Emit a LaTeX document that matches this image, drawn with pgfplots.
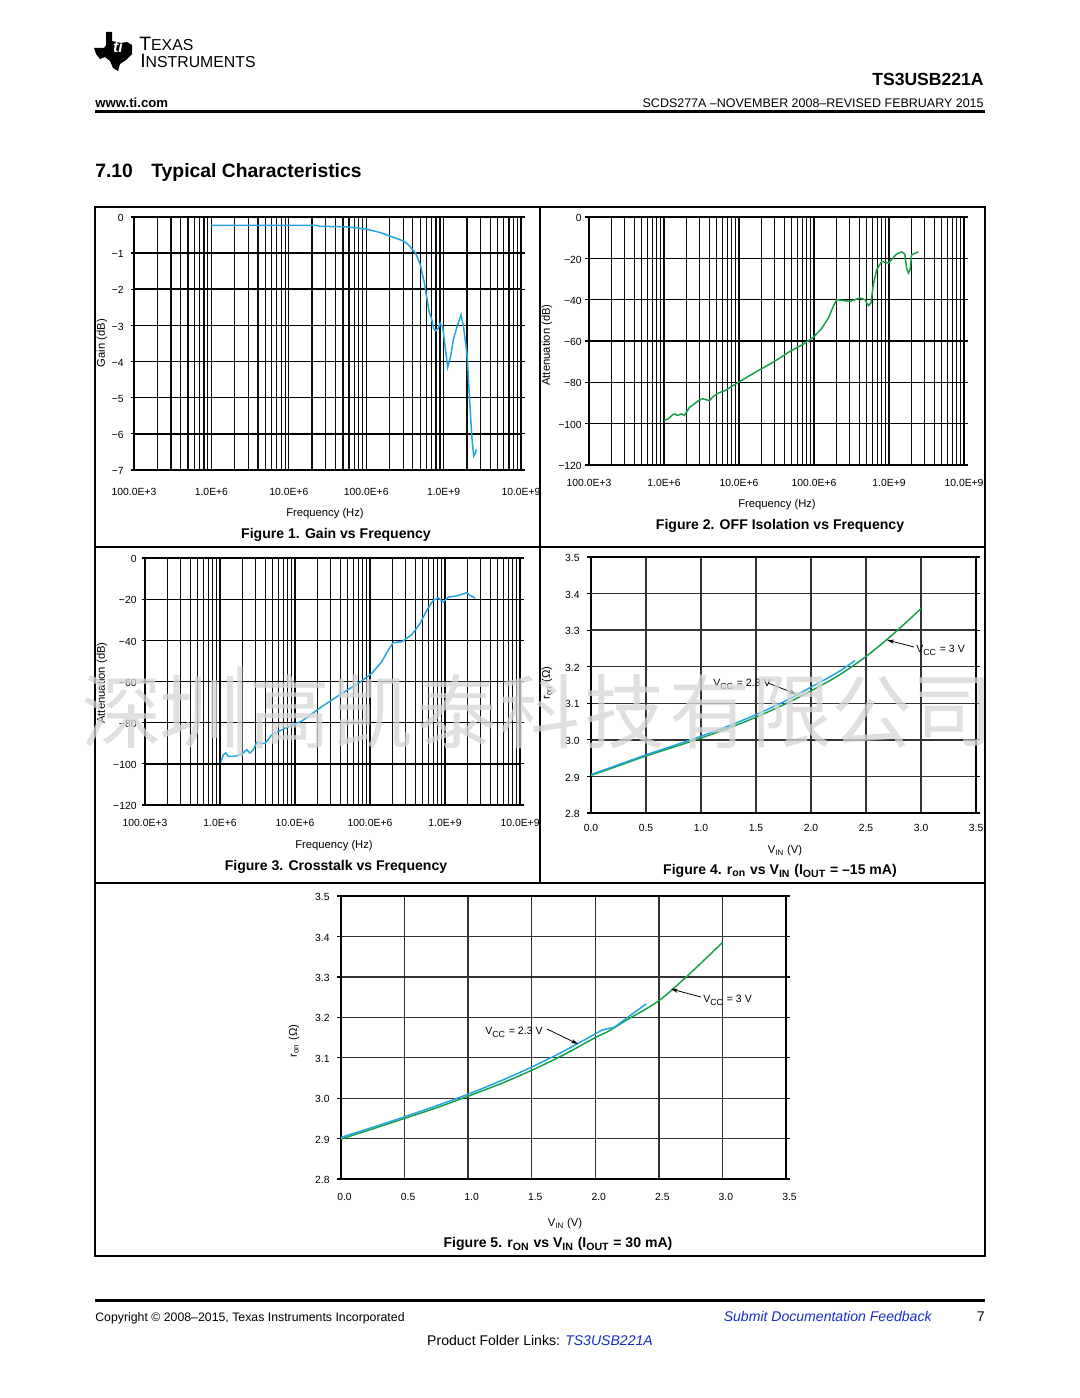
\documentclass[border=0pt]{standalone}
\usepackage{fontspec}
\setmainfont{Liberation Sans}
\newfontfamily\cjk{Noto Sans CJK SC}
\usepackage{pgfplots}
\pgfplotsset{compat=1.18}
\usetikzlibrary{arrows.meta}
\definecolor{cblue}{RGB}{35,165,225}
\definecolor{cgreen}{RGB}{25,160,75}
\definecolor{tiblue}{RGB}{25,45,200}
\newcommand\fs[1]{\fontsize{#1}{#1}\selectfont}
\pgfplotsset{
  every axis/.append style={scale only axis, anchor=south west,
    axis line style={line width=1.1pt},
    tick align=outside, major tick length=2pt, minor tick length=0pt,
    xtick style={draw=none},
    ytick style={line width=0.7pt, black},
    major grid style={black!95, line width=0.7pt},
    minor grid style={black!95, line width=0.7pt},
    y grid style={black, line width=0.85pt},
    tick label style={font=\fs{5.9}},
    yticklabel style={anchor=mid east, inner sep=0pt},
    xticklabel style={anchor=mid, inner sep=0pt},
  },
}
\begin{document}
\begin{tikzpicture}[x=0.569pt, y=-0.569pt]
\fill[white] (0,0) rectangle (1080,1398);
\path[use as bounding box] (0,0) rectangle (1080,1398);

% ---------- header ----------
\fill[black] (106,32) -- (112,32) -- (112,41) -- (121,43) -- (127,42) -- (132,45) -- (132,54)
  -- (126,60) -- (120,64) -- (118,71) -- (113,68) -- (110,61) -- (105,57) -- (100,59)
  -- (96,54) -- (94,48) -- (104,48) -- (106,45) -- cycle;
\node[white, font=\bfseries\itshape\fs{9}, inner sep=0] at (118,47) {ti};
\node[anchor=base west, inner sep=0] at (139,51) {\fs{11}T\fs{9}EXAS};
\node[anchor=base west, inner sep=0] at (140,68) {\fs{11}I\fs{9}NSTRUMENTS};
\node[anchor=mid east, inner sep=0, font=\bfseries\fs{10}] at (984,81) {TS3USB221A};
\node[anchor=mid west, inner sep=0, font=\bfseries\fs{7.5}] at (95,103) {www.ti.com};
\node[anchor=mid east, inner sep=0, font=\fs{7.1}] at (984,103) {SCDS277A –NOVEMBER 2008–REVISED FEBRUARY 2015};
\fill[black] (95,110) rectangle (985,113);
\node[anchor=mid west, inner sep=0, font=\bfseries\fs{11}] at (95,173) {7.10};
\node[anchor=mid west, inner sep=0, font=\bfseries\fs{11}] at (151,173) {Typical Characteristics};

% ---------- frames ----------
\draw[line width=0.6pt] (95,207) rectangle (985,1256);
\draw[line width=0.6pt] (540,207) -- (540,883);
\draw[line width=0.6pt] (95,547) -- (985,547);
\draw[line width=0.6pt] (95,883) -- (985,883);

% ---------- Figure 1 ----------
\begin{axis}[at={(76.25pt,-267.43pt)}, width=220.2pt, height=144pt,
  xmode=log, xmin=1e5, xmax=1e10,
  xtick={1e5,1e6,1e7,1e8,1e9,1e10},
  xticklabels={100.0E+3,1.0E+6,10.0E+6,100.0E+6,1.0E+9,10.0E+9},
  minor xtick={2e5,3e5,4e5,5e5,6e5,7e5,8e5,9e5,2e6,3e6,4e6,5e6,6e6,7e6,8e6,9e6,
               2e7,3e7,4e7,5e7,6e7,7e7,8e7,9e7,2e8,3e8,4e8,5e8,6e8,7e8,8e8,9e8,
               2e9,3e9,4e9,5e9,6e9,7e9,8e9,9e9},
  grid=both,
  ymin=-7, ymax=0, ytick={-7,-6,-5,-4,-3,-2,-1,0},
  yticklabels={−7,−6,−5,−4,−3,−2,−1,0},
  yticklabel style={xshift=-3.7pt}, xticklabel style={yshift=-10pt}]
\addplot[line width=0.85pt, no marks, cblue] coordinates {
(1.00e6,-0.23) (2.28e7,-0.23) (2.51e7,-0.26) (5.0e7,-0.27) (7.55e7,-0.30) (1.02e8,-0.34)
(1.51e8,-0.43) (2.04e8,-0.53) (3.07e8,-0.67) (3.55e8,-0.78) (4.37e8,-1.01) (5.01e8,-1.33)
(5.60e8,-1.79) (5.89e8,-2.07) (6.50e8,-2.62) (7.05e8,-2.85) (7.41e8,-3.09) (7.94e8,-3.15)
(8.51e8,-3.08) (9.06e8,-2.94) (9.70e8,-3.03) (1.04e9,-3.54) (1.13e9,-4.16) (1.22e9,-3.90)
(1.35e9,-3.35) (1.52e9,-2.98) (1.68e9,-2.71) (1.82e9,-3.08) (2.01e9,-3.81) (2.16e9,-5.00)
(2.32e9,-6.11) (2.45e9,-6.61) (2.59e9,-6.52) (2.63e9,-6.43)};
\end{axis}
\node[rotate=90, font=\fs{6.4}] at (102,343) {Gain (dB)};
\node[font=\fs{6.4}] at (325,514) {Frequency (Hz)};
\node[anchor=mid, font=\bfseries\fs{8}] at (336,534) {Figure 1. Gain vs Frequency};

% ---------- Figure 2 ----------
\begin{axis}[at={(335.14pt,-264.59pt)}, width=213.4pt, height=141.1pt,
  xmode=log, xmin=1e5, xmax=1e10,
  xtick={1e5,1e6,1e7,1e8,1e9,1e10},
  xticklabels={100.0E+3,1.0E+6,10.0E+6,100.0E+6,1.0E+9,10.0E+9},
  minor xtick={2e5,3e5,4e5,5e5,6e5,7e5,8e5,9e5,2e6,3e6,4e6,5e6,6e6,7e6,8e6,9e6,
               2e7,3e7,4e7,5e7,6e7,7e7,8e7,9e7,2e8,3e8,4e8,5e8,6e8,7e8,8e8,9e8,
               2e9,3e9,4e9,5e9,6e9,7e9,8e9,9e9},
  grid=both,
  ymin=-120, ymax=0, ytick={-120,-100,-80,-60,-40,-20,0},
  yticklabels={−120,−100,−80,−60,−40,−20,0},
  yticklabel style={xshift=-2pt}, xticklabel style={yshift=-7.5pt}]
\addplot[line width=0.85pt, no marks, cgreen] coordinates {
(1.00e6,-98.5) (1.14e6,-97.6) (1.31e6,-95.6) (1.40e6,-95.3) (1.50e6,-96.0) (1.72e6,-95.3)
(1.86e6,-96.0) (2.00e6,-94.4) (2.18e6,-92.1) (2.45e6,-90.8) (2.87e6,-88.9) (3.28e6,-87.9)
(3.71e6,-88.5) (4.02e6,-88.9) (4.55e6,-86.8) (5.30e6,-85.2) (6.50e6,-84.0) (1.03e7,-79.5)
(1.72e7,-74.7) (2.87e7,-70.2) (4.79e7,-65.0) (7.21e7,-61.5) (9.77e7,-58.2) (1.26e8,-54.0)
(1.55e8,-48.9) (1.81e8,-43.2) (2.00e8,-40.0) (2.34e8,-40.3) (3.02e8,-40.8) (4.10e8,-39.2)
(4.79e8,-40.0) (5.30e8,-42.9) (5.75e8,-41.6) (6.17e8,-32.7) (6.85e8,-25.5) (7.98e8,-21.5)
(9.79e8,-22.3) (1.26e9,-17.9) (1.48e9,-16.9) (1.62e9,-17.9) (1.72e9,-24.7) (1.81e9,-27.1)
(1.91e9,-25.5) (2.00e9,-18.2) (2.46e9,-16.9)};
\end{axis}
\node[rotate=90, font=\fs{6.4}] at (547,345) {Attenuation (dB)};
\node[font=\fs{6.4}] at (777,505) {Frequency (Hz)};
\node[anchor=mid, font=\bfseries\fs{8}] at (780,525) {Figure 2. OFF Isolation vs Frequency};

% ---------- Figure 3 ----------
\begin{axis}[at={(82.51pt,-458.05pt)}, width=213.4pt, height=140.5pt,
  xmode=log, xmin=1e5, xmax=1e10,
  xtick={1e5,1e6,1e7,1e8,1e9,1e10},
  xticklabels={100.0E+3,1.0E+6,10.0E+6,100.0E+6,1.0E+9,10.0E+9},
  minor xtick={2e5,3e5,4e5,5e5,6e5,7e5,8e5,9e5,2e6,3e6,4e6,5e6,6e6,7e6,8e6,9e6,
               2e7,3e7,4e7,5e7,6e7,7e7,8e7,9e7,2e8,3e8,4e8,5e8,6e8,7e8,8e8,9e8,
               2e9,3e9,4e9,5e9,6e9,7e9,8e9,9e9},
  grid=both,
  ymin=-120, ymax=0, ytick={-120,-100,-80,-60,-40,-20,0},
  yticklabels={−120,−100,−80,−60,−40,−20,0},
  yticklabel style={xshift=-2.6pt}, xticklabel style={yshift=-7.5pt}]
\addplot[line width=0.85pt, no marks, cblue] coordinates {
(1.03e6,-98.9) (1.11e6,-95.6) (1.19e6,-94.7) (1.29e6,-96.3) (1.58e6,-96.3) (1.95e6,-95.3)
(2.27e6,-93.1) (2.51e6,-94.8) (2.78e6,-93.2) (3.08e6,-89.5) (3.41e6,-90.0) (3.98e6,-90.0)
(4.89e6,-85.9) (7.36e6,-82.7) (1.23e7,-79.2) (2.27e7,-72.2) (4.19e7,-65.8) (6.98e7,-60.9)
(1.05e8,-56.1) (1.43e8,-50.4) (1.75e8,-44.7) (2.05e8,-41.0) (2.64e8,-40.7) (3.60e8,-37.2)
(4.65e8,-31.8) (5.70e8,-25.4) (6.98e8,-20.5) (8.15e8,-19.4) (9.51e8,-21.3) (1.11e9,-18.9)
(1.43e9,-18.4) (1.95e9,-16.8) (2.15e9,-18.1) (2.51e9,-19.4)};
\end{axis}
\node[rotate=90, font=\fs{6.4}] at (102,683) {Attenuation (dB)};
\node[font=\fs{6.4}] at (334,846) {Frequency (Hz)};
\node[anchor=mid, font=\bfseries\fs{8}] at (336,866) {Figure 3. Crosstalk vs Frequency};

% ---------- Figure 4 ----------
\begin{axis}[at={(336.28pt,-462.60pt)}, width=219.1pt, height=145.7pt,
  xmin=0, xmax=3.5, ymin=2.8, ymax=3.5,
  xtick={0,0.5,1,1.5,2,2.5,3,3.5},
  xticklabels={0.0,0.5,1.0,1.5,2.0,2.5,3.0,3.5},
  ytick={2.8,2.9,3.0,3.1,3.2,3.3,3.4,3.5},
  yticklabels={2.8,2.9,3.0,3.1,3.2,3.3,3.4,3.5},
  grid=major, major grid style={black!80, line width=0.75pt},
  y grid style={black!80, line width=0.75pt},
  yticklabel style={xshift=-4.3pt}, xticklabel style={yshift=-6pt}]
\addplot[line width=0.85pt, no marks, cgreen, smooth] coordinates {
(0,2.903) (0.25,2.929) (0.5,2.956) (0.75,2.980) (1.0,3.005) (1.25,3.032) (1.5,3.062)
(1.75,3.096) (2.0,3.134) (2.25,3.176) (2.5,3.228) (2.75,3.290) (3.0,3.359)};
\addplot[line width=0.85pt, no marks, cblue, smooth] coordinates {
(0,2.905) (0.25,2.932) (0.5,2.959) (0.75,2.984) (1.0,3.010) (1.25,3.038) (1.5,3.069)
(1.75,3.104) (2.0,3.144) (2.25,3.186) (2.4,3.217)};
\end{axis}
\node[rotate=90, font=\fs{6.4}] at (547,683) {r\textsubscript{on} (Ω)};
\node[anchor=mid, font=\fs{6.4}] at (785,849) {V\textsubscript{IN} (V)};
\node[anchor=mid, font=\bfseries\fs{8}] at (780,870) {Figure 4. r\textsubscript{on} vs V\textsubscript{IN} (I\textsubscript{OUT} = –15 mA)};
\node[anchor=mid west, inner sep=0, font=\fs{6}] at (916,648) {V\textsubscript{CC} = 3 V};
\draw[-{Stealth[length=4pt,width=2.4pt]}, line width=0.45pt] (914,647) -- (887,640);
\node[anchor=mid west, inner sep=0, font=\fs{6}] at (713,682) {V\textsubscript{CC} = 2.3 V};
\draw[-{Stealth[length=4pt,width=2.4pt]}, line width=0.45pt] (768,683) -- (796,694);

% ---------- Figure 5 ----------
\begin{axis}[at={(194.03pt,-670.85pt)}, width=253.2pt, height=161pt,
  xmin=0, xmax=3.5, ymin=2.8, ymax=3.5,
  xtick={0,0.5,1,1.5,2,2.5,3,3.5},
  xticklabels={0.0,0.5,1.0,1.5,2.0,2.5,3.0,3.5},
  ytick={2.8,2.9,3.0,3.1,3.2,3.3,3.4,3.5},
  yticklabels={2.8,2.9,3.0,3.1,3.2,3.3,3.4,3.5},
  grid=major, major grid style={black!80, line width=0.75pt},
  y grid style={black!80, line width=0.75pt},
  yticklabel style={xshift=-4.3pt}, xticklabel style={yshift=-7.6pt, xshift=2pt}]
\addplot[line width=0.85pt, no marks, cgreen, smooth] coordinates {
(0,2.899) (0.25,2.924) (0.5,2.950) (0.75,2.976) (1.0,3.005) (1.25,3.035) (1.5,3.069)
(1.75,3.107) (2.0,3.150) (2.1,3.165) (2.25,3.194) (2.5,3.241) (2.75,3.310) (3.0,3.385)};
\addplot[line width=0.85pt, no marks, cblue, smooth] coordinates {
(0,2.903) (0.25,2.928) (0.5,2.954) (0.75,2.981) (1.0,3.010) (1.25,3.042) (1.5,3.077)
(1.75,3.116) (2.0,3.159) (2.05,3.168) (2.1,3.172) (2.15,3.176) (2.25,3.199) (2.4,3.233)};
\end{axis}
\node[rotate=90, font=\fs{6.4}] at (294,1041) {r\textsubscript{on} (Ω)};
\node[anchor=mid, font=\fs{6.4}] at (565,1222) {V\textsubscript{IN} (V)};
\node[anchor=mid, font=\bfseries\fs{8}] at (558,1243) {Figure 5. r\textsubscript{ON} vs V\textsubscript{IN} (I\textsubscript{OUT} = 30 mA)};
\node[anchor=mid west, inner sep=0, font=\fs{6}] at (703,998) {V\textsubscript{CC} = 3 V};
\draw[-{Stealth[length=4pt,width=2.4pt]}, line width=0.45pt] (701,997) -- (671,989);
\node[anchor=mid west, inner sep=0, font=\fs{6}] at (485,1030) {V\textsubscript{CC} = 2.3 V};
\draw[-{Stealth[length=4pt,width=2.4pt]}, line width=0.45pt] (547,1029) -- (578,1044);

% ---------- footer ----------
\fill[black] (95,1299) rectangle (985,1302);
\node[anchor=mid west, inner sep=0, font=\fs{7}] at (95,1317) {Copyright © 2008–2015, Texas Instruments Incorporated};
\node[anchor=mid east, inner sep=0, font=\itshape\fs{8}, text=tiblue] at (932,1317) {Submit Documentation Feedback};
\node[anchor=mid east, inner sep=0, font=\fs{8}] at (985,1317) {7};
\node[anchor=mid, inner sep=0, font=\fs{8}] at (540,1341) {Product Folder Links: \textcolor{tiblue}{\itshape TS3USB221A}};

% ---------- watermark ----------
\begin{scope}[every node/.style={font=\cjk\fs{46}, text=black!16, opacity=0.76, inner sep=0}]
\node at (122,712) {深};
\node at (200,712) {圳};
\node at (240,712) {|};
\node at (290,712) {高};
\node at (373,712) {凯};
\node at (457,712) {泰};
\node at (540,712) {科};
\node at (625,712) {技};
\node at (710,712) {有};
\node at (792,712) {限};
\node at (872,712) {公};
\node at (953,712) {司};
\end{scope}
\end{tikzpicture}
\end{document}
